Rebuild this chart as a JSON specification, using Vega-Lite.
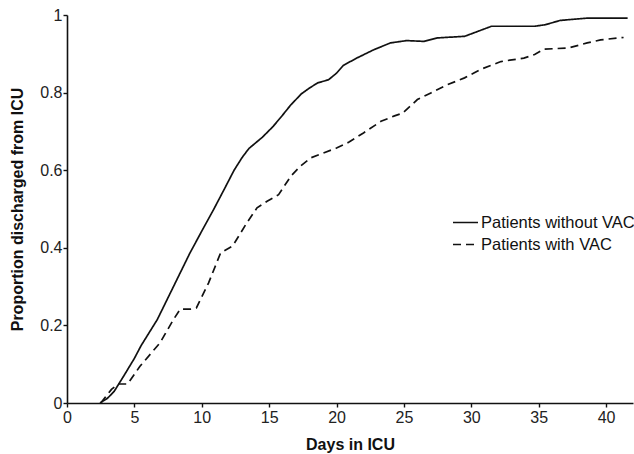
{
  "$schema": "https://vega.github.io/schema/vega-lite/v6.json",
  "width": 566,
  "height": 388,
  "autosize": "none",
  "padding": {"left": 67, "top": 15, "right": 1, "bottom": 51},
  "background": "white",
  "config": {
    "view": {"stroke": null},
    "font": "Liberation Sans",
    "axis": {
      "grid": false,
      "domainColor": "#111",
      "domainWidth": 1.6,
      "tickColor": "#111",
      "tickWidth": 1.4,
      "tickSize": 4,
      "labelColor": "#222",
      "labelFontSize": 16,
      "labelFont": "Liberation Sans",
      "titleFont": "Liberation Sans",
      "titleFontSize": 16,
      "titleFontWeight": "bold",
      "titleColor": "#111"
    }
  },
  "data": {
    "values": [
      {"series": "Patients without VAC", "day": 2.45, "p": 0},
      {"series": "Patients without VAC", "day": 3.0, "p": 0.012},
      {"series": "Patients without VAC", "day": 3.5, "p": 0.03},
      {"series": "Patients without VAC", "day": 4.2, "p": 0.069},
      {"series": "Patients without VAC", "day": 5.0, "p": 0.115},
      {"series": "Patients without VAC", "day": 5.5, "p": 0.148},
      {"series": "Patients without VAC", "day": 6.7, "p": 0.215},
      {"series": "Patients without VAC", "day": 7.9, "p": 0.3},
      {"series": "Patients without VAC", "day": 9.1, "p": 0.385},
      {"series": "Patients without VAC", "day": 10.0, "p": 0.443},
      {"series": "Patients without VAC", "day": 10.9, "p": 0.5},
      {"series": "Patients without VAC", "day": 11.7, "p": 0.553},
      {"series": "Patients without VAC", "day": 12.4, "p": 0.6},
      {"series": "Patients without VAC", "day": 13.0, "p": 0.633},
      {"series": "Patients without VAC", "day": 13.5, "p": 0.656},
      {"series": "Patients without VAC", "day": 14.5, "p": 0.685},
      {"series": "Patients without VAC", "day": 15.3, "p": 0.713},
      {"series": "Patients without VAC", "day": 16.0, "p": 0.742},
      {"series": "Patients without VAC", "day": 16.6, "p": 0.768},
      {"series": "Patients without VAC", "day": 17.4, "p": 0.797},
      {"series": "Patients without VAC", "day": 18.0, "p": 0.812},
      {"series": "Patients without VAC", "day": 18.6, "p": 0.825},
      {"series": "Patients without VAC", "day": 19.4, "p": 0.833},
      {"series": "Patients without VAC", "day": 20.0, "p": 0.85},
      {"series": "Patients without VAC", "day": 20.5, "p": 0.87},
      {"series": "Patients without VAC", "day": 21.5, "p": 0.889},
      {"series": "Patients without VAC", "day": 22.8, "p": 0.911},
      {"series": "Patients without VAC", "day": 24.0, "p": 0.928},
      {"series": "Patients without VAC", "day": 25.2, "p": 0.934},
      {"series": "Patients without VAC", "day": 26.5, "p": 0.932},
      {"series": "Patients without VAC", "day": 27.5, "p": 0.941},
      {"series": "Patients without VAC", "day": 29.5, "p": 0.945},
      {"series": "Patients without VAC", "day": 30.5, "p": 0.958},
      {"series": "Patients without VAC", "day": 31.5, "p": 0.971},
      {"series": "Patients without VAC", "day": 34.7, "p": 0.971},
      {"series": "Patients without VAC", "day": 35.5, "p": 0.975},
      {"series": "Patients without VAC", "day": 36.6, "p": 0.986},
      {"series": "Patients without VAC", "day": 38.6, "p": 0.992},
      {"series": "Patients without VAC", "day": 41.6, "p": 0.992},
      {"series": "Patients with VAC", "day": 2.5, "p": 0},
      {"series": "Patients with VAC", "day": 3.3, "p": 0.035},
      {"series": "Patients with VAC", "day": 3.8, "p": 0.049},
      {"series": "Patients with VAC", "day": 4.5, "p": 0.049},
      {"series": "Patients with VAC", "day": 5.4, "p": 0.094},
      {"series": "Patients with VAC", "day": 6.9, "p": 0.155},
      {"series": "Patients with VAC", "day": 7.9, "p": 0.215},
      {"series": "Patients with VAC", "day": 8.4, "p": 0.242},
      {"series": "Patients with VAC", "day": 9.2, "p": 0.242},
      {"series": "Patients with VAC", "day": 9.6, "p": 0.245},
      {"series": "Patients with VAC", "day": 10.5, "p": 0.309},
      {"series": "Patients with VAC", "day": 11.4, "p": 0.387},
      {"series": "Patients with VAC", "day": 12.3, "p": 0.405},
      {"series": "Patients with VAC", "day": 13.3, "p": 0.462},
      {"series": "Patients with VAC", "day": 14.1, "p": 0.503},
      {"series": "Patients with VAC", "day": 14.85, "p": 0.52},
      {"series": "Patients with VAC", "day": 15.7, "p": 0.537},
      {"series": "Patients with VAC", "day": 16.6, "p": 0.584},
      {"series": "Patients with VAC", "day": 17.3, "p": 0.61},
      {"series": "Patients with VAC", "day": 18.1, "p": 0.632},
      {"series": "Patients with VAC", "day": 19.0, "p": 0.644},
      {"series": "Patients with VAC", "day": 20.0, "p": 0.657},
      {"series": "Patients with VAC", "day": 20.9, "p": 0.672},
      {"series": "Patients with VAC", "day": 22.0, "p": 0.696},
      {"series": "Patients with VAC", "day": 23.3, "p": 0.726},
      {"series": "Patients with VAC", "day": 24.3, "p": 0.74},
      {"series": "Patients with VAC", "day": 24.9, "p": 0.747},
      {"series": "Patients with VAC", "day": 26.0, "p": 0.782},
      {"series": "Patients with VAC", "day": 27.0, "p": 0.799},
      {"series": "Patients with VAC", "day": 28.2, "p": 0.82},
      {"series": "Patients with VAC", "day": 29.5, "p": 0.838},
      {"series": "Patients with VAC", "day": 30.7, "p": 0.86},
      {"series": "Patients with VAC", "day": 32.2, "p": 0.88},
      {"series": "Patients with VAC", "day": 33.9, "p": 0.889},
      {"series": "Patients with VAC", "day": 34.7, "p": 0.898},
      {"series": "Patients with VAC", "day": 35.4, "p": 0.912},
      {"series": "Patients with VAC", "day": 37.2, "p": 0.915},
      {"series": "Patients with VAC", "day": 38.6, "p": 0.928},
      {"series": "Patients with VAC", "day": 39.6, "p": 0.936},
      {"series": "Patients with VAC", "day": 41.3, "p": 0.942}
    ]
  },
  "mark": {"type": "line", "color": "#111", "strokeWidth": 1.7},
  "encoding": {
    "x": {
      "field": "day",
      "type": "quantitative",
      "scale": {"domain": [0, 42], "nice": false, "zero": false},
      "axis": {
        "values": [0, 5, 10, 15, 20, 25, 30, 35, 40],
        "title": "Days in ICU",
        "labelPadding": 2,
        "labelFlush": false,
        "titleY": 46,
        "titleBaseline": "alphabetic"
      }
    },
    "y": {
      "field": "p",
      "type": "quantitative",
      "scale": {"domain": [0, 1], "nice": false},
      "axis": {
        "values": [0, 0.2, 0.4, 0.6, 0.8, 1],
        "format": "~g",
        "title": "Proportion discharged from ICU",
        "labelPadding": 1,
        "labelFlush": false,
        "titleX": -50,
        "titleY": 194,
        "titleAlign": "center",
        "titleBaseline": "middle"
      }
    },
    "strokeDash": {
      "field": "series",
      "type": "nominal",
      "scale": {
        "domain": ["Patients without VAC", "Patients with VAC"],
        "range": [[1, 0], [8, 5]]
      },
      "legend": {
        "orient": "none",
        "legendX": 385,
        "legendY": 194,
        "title": null,
        "symbolType": "stroke",
        "symbolSize": 625,
        "symbolStrokeWidth": 1.7,
        "symbolStrokeColor": "#111",
        "labelFontSize": 16.5,
        "labelFont": "Liberation Sans",
        "labelColor": "#111",
        "labelOffset": 2,
        "rowPadding": 0,
        "padding": 0
      }
    }
  }
}
